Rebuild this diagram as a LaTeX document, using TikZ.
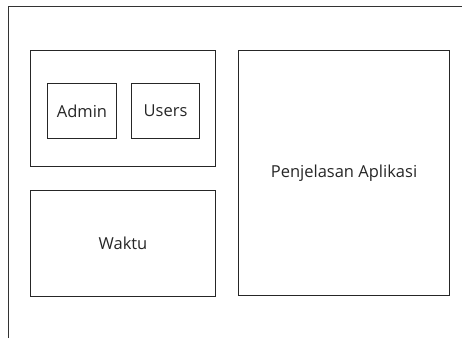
\documentclass[tikz,border=0pt]{standalone}
\usepackage{fontspec}
\setmainfont{Open Sans}
\usetikzlibrary{positioning}

\begin{document}
\begin{tikzpicture}[x=1pt,y=-1pt,
    box/.style={draw=black!85, line width=1pt, inner sep=0pt,
      font=\fontsize{16.5}{19}\selectfont, text=black!85}]
    \useasboundingbox (0,0) rectangle (462,338);
    \coordinate (frame_bl) at (8,338);
    \coordinate (frame_tl) at (8,6);
    \coordinate (frame_tr) at (462,6);
    \draw[black!80, line width=1pt] (frame_bl) -- (frame_tl) -- (frame_tr);
    \node[box, minimum width=185pt, minimum height=116pt, anchor=north west] (menu) at (30,50) {};
      \node[box, minimum width=69pt, minimum height=55pt, anchor=north west] (admin) at (47,83) {Admin};
      \node[box, minimum width=68pt, minimum height=55pt] (users) [right=14pt of admin] {Users};
    \node[box, minimum width=185pt, minimum height=106pt] (waktu) [below=23pt of menu] {Waktu};
    \node[box, minimum width=211pt, minimum height=245pt, anchor=north west] (info) at (238,50) {Penjelasan Aplikasi};
  \end{tikzpicture}
\end{document}
